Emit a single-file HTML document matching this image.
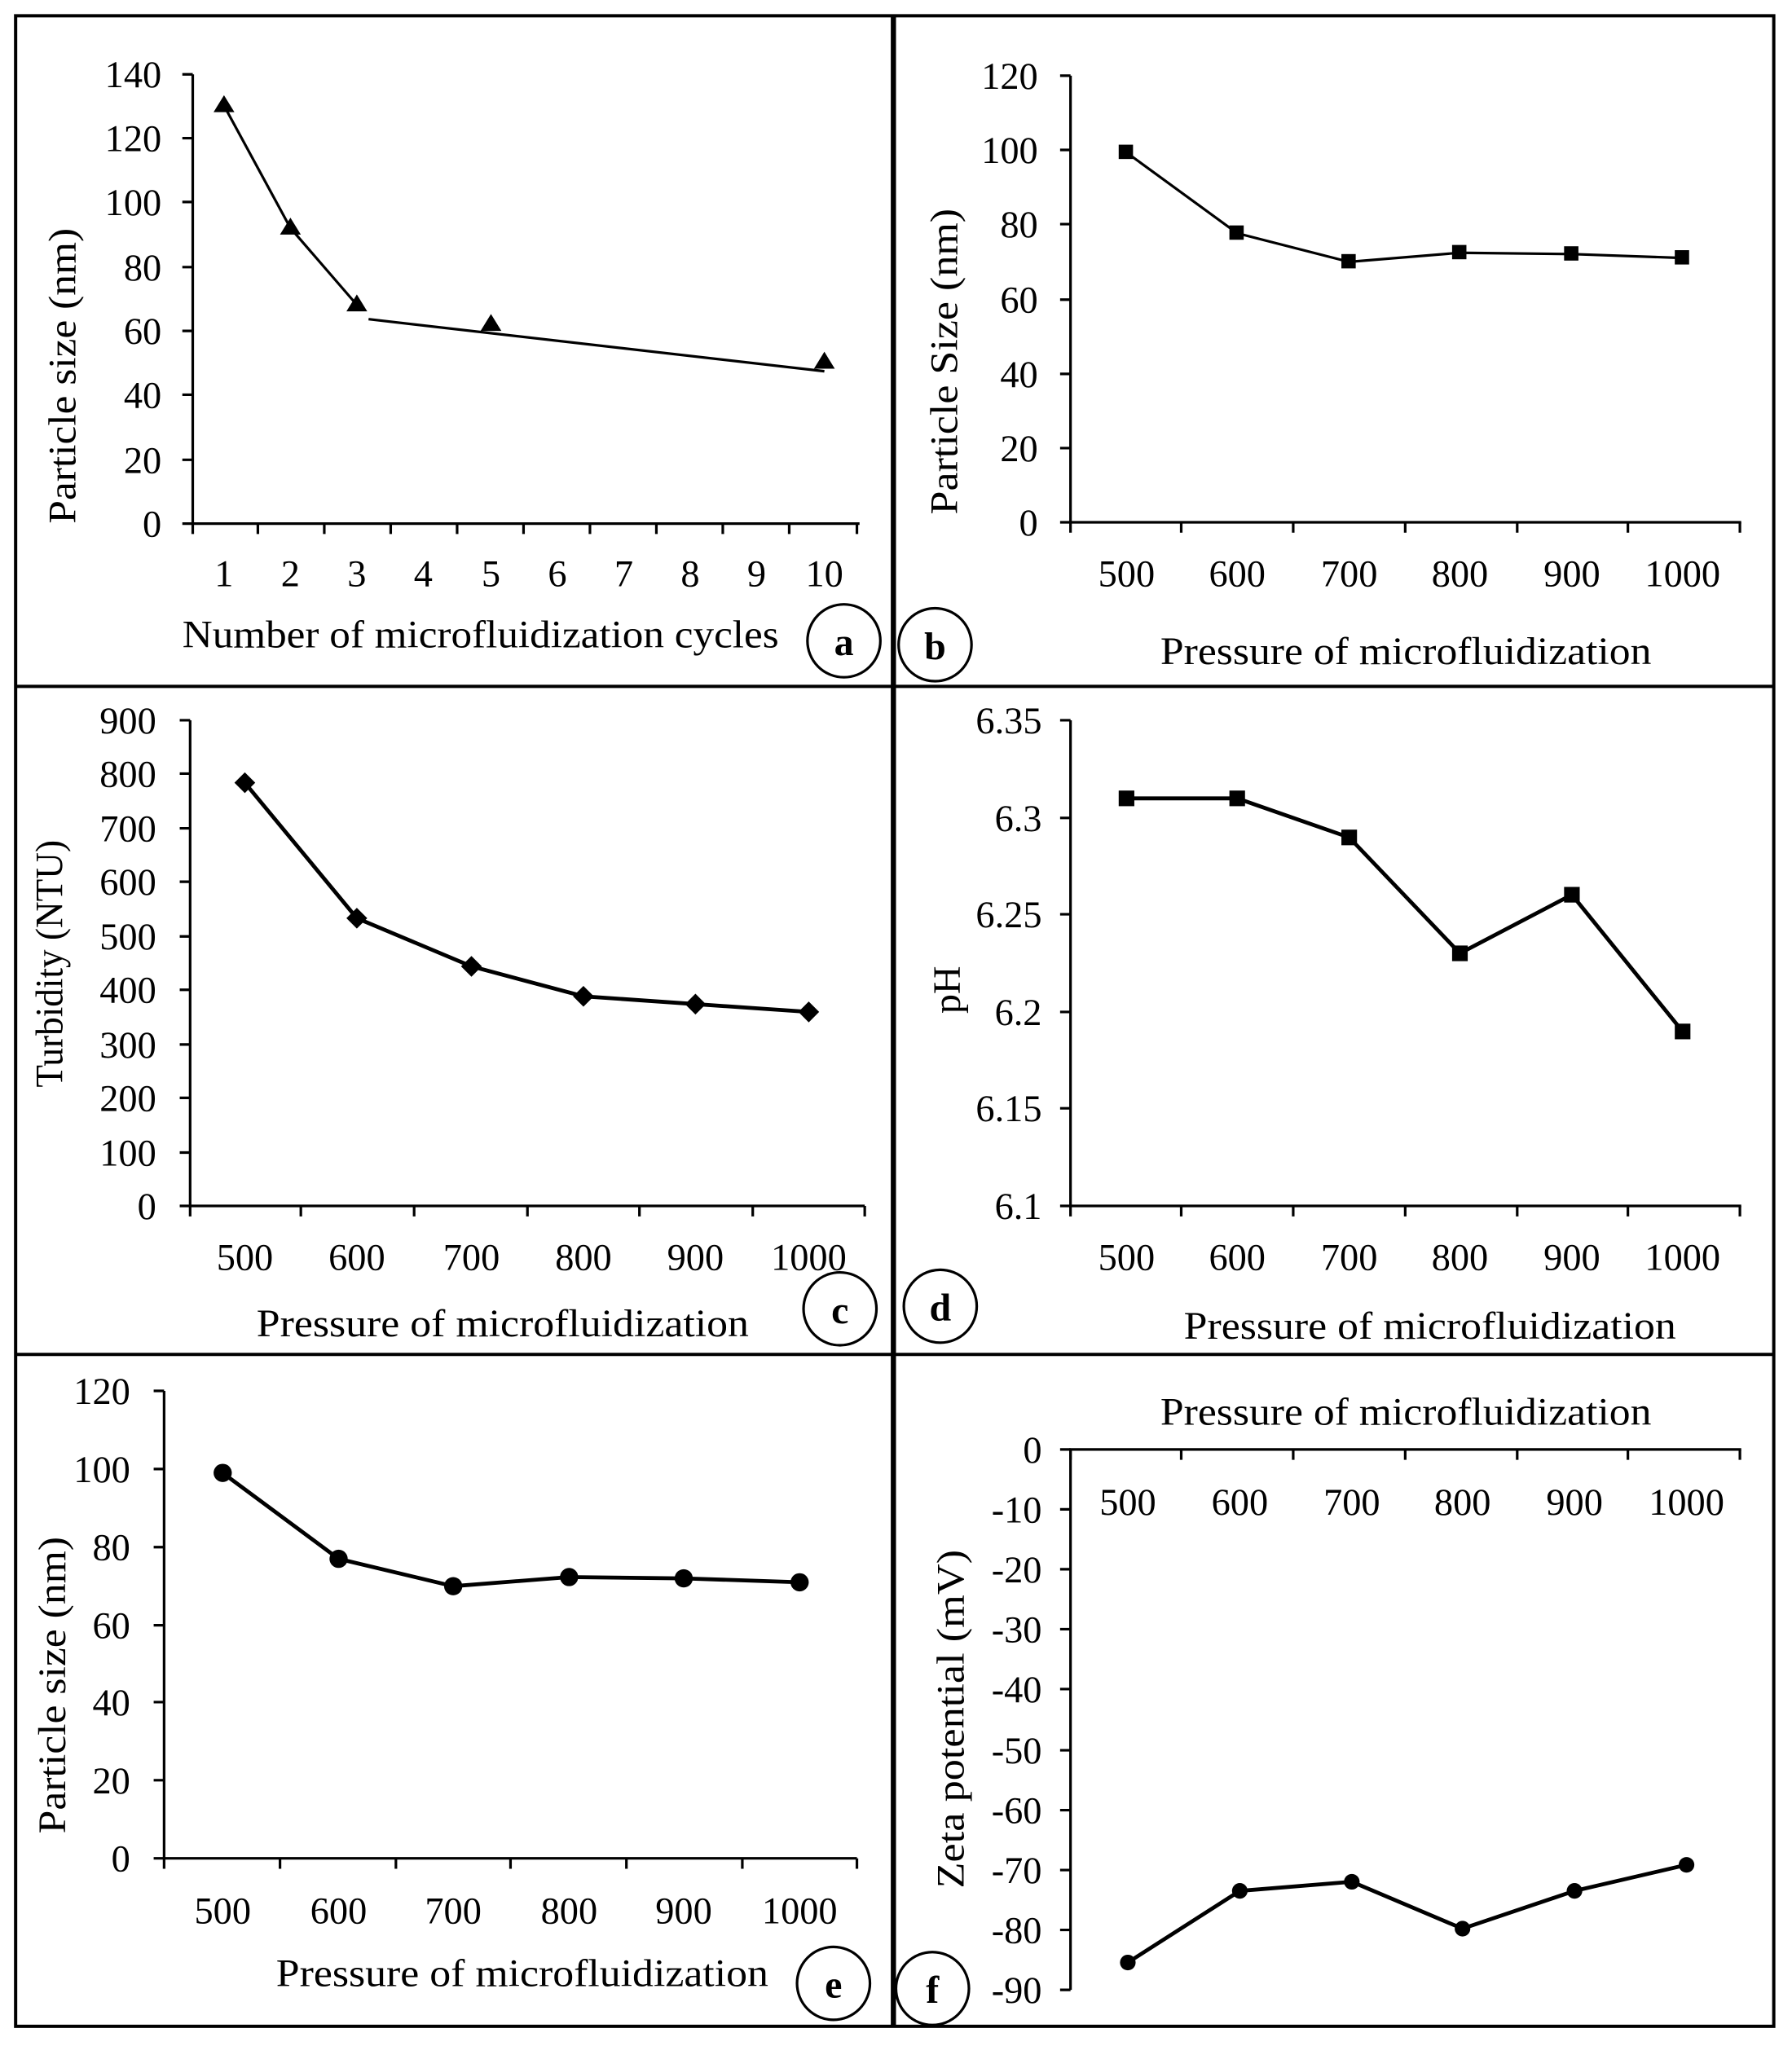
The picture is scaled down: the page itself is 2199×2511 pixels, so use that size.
<!DOCTYPE html>
<html><head><meta charset="utf-8"><style>html,body{margin:0;padding:0;background:#fff}svg{display:block}</style></head>
<body>
<svg width="2199" height="2511" viewBox="0 0 1376 1571" xmlns="http://www.w3.org/2000/svg" font-family="Liberation Serif, serif" font-size="29" fill="#000">
<rect x="0" y="0" width="1376" height="1571" fill="#fff"/>
<g stroke="#000" stroke-width="2.5" fill="none">
<rect x="12" y="12" width="1350" height="1544"/>
<line x1="686" y1="12" x2="686" y2="1556" stroke-width="4"/>
<line x1="12" y1="527" x2="1362" y2="527"/>
<line x1="12" y1="1040" x2="1362" y2="1040"/>
</g>

<!-- Panel a -->
<g stroke="#000" stroke-width="2" fill="none">
<path d="M148 57V402H660"/>
<path d="M140 57H148M140 106H148M140 155H148M140 205H148M140 254H148M140 303H148M140 353H148M140 402H148"/>
<path d="M148 402v8M198 402v8M249 402v8M300 402v8M351 402v8M402 402v8M453 402v8M504 402v8M555 402v8M606 402v8M658 402v8"/>
<polyline points="172,81 223,175 274,234"/>
<line x1="283" y1="245" x2="633" y2="285"/>
<circle cx="648" cy="492" r="28"/>
</g>
<g><path d="M172 73l8 13h-16zM223 167l8 13h-16zM274 226l8 13h-16zM377 241l8 13h-16zM633 270l8 13h-16z"/></g>
<g text-anchor="end"><text x="124" y="67">140</text><text x="124" y="116">120</text><text x="124" y="165">100</text><text x="124" y="215">80</text><text x="124" y="264">60</text><text x="124" y="313">40</text><text x="124" y="363">20</text><text x="124" y="412">0</text></g>
<g text-anchor="middle"><text x="172" y="450">1</text><text x="223" y="450">2</text><text x="274" y="450">3</text><text x="325" y="450">4</text><text x="377" y="450">5</text><text x="428" y="450">6</text><text x="479" y="450">7</text><text x="530" y="450">8</text><text x="581" y="450">9</text><text x="633" y="450">10</text>
<text x="648" y="503" font-weight="bold" font-size="30">a</text></g>
<text x="140" y="497" font-size="30" textLength="458" lengthAdjust="spacingAndGlyphs">Number of microfluidization cycles</text>
<text transform="translate(58 402) rotate(-90)" font-size="30" textLength="227" lengthAdjust="spacingAndGlyphs">Particle size (nm)</text>

<!-- Panel b -->
<g stroke="#000" stroke-width="2" fill="none">
<path d="M822 58V401H1337"/>
<path d="M814 58H822M814 115H822M814 172H822M814 230H822M814 287H822M814 344H822M814 401H822"/>
<path d="M822 401v8M907 401v8M993 401v8M1079 401v8M1165 401v8M1250 401v8M1336 401v8"/>
<polyline points="865,117 950,179 1036,201 1121,194 1207,195 1292,198"/>
<circle cx="718" cy="495" r="28"/>
</g>
<g><rect x="859" y="111" width="11" height="11"/><rect x="944" y="173" width="11" height="11"/><rect x="1030" y="195" width="11" height="11"/><rect x="1115" y="188" width="11" height="11"/><rect x="1201" y="189" width="11" height="11"/><rect x="1286" y="192" width="11" height="11"/></g>
<g text-anchor="end"><text x="797" y="68">120</text><text x="797" y="125">100</text><text x="797" y="182">80</text><text x="797" y="240">60</text><text x="797" y="297">40</text><text x="797" y="354">20</text><text x="797" y="411">0</text></g>
<g text-anchor="middle"><text x="865" y="450">500</text><text x="950" y="450">600</text><text x="1036" y="450">700</text><text x="1121" y="450">800</text><text x="1207" y="450">900</text><text x="1292" y="450">1000</text>
<text x="718" y="506" font-weight="bold" font-size="30">b</text></g>
<text x="891" y="510" font-size="30" textLength="377" lengthAdjust="spacingAndGlyphs">Pressure of microfluidization</text>
<text transform="translate(735 395) rotate(-90)" font-size="30" textLength="235" lengthAdjust="spacingAndGlyphs">Particle Size (nm)</text>

<!-- Panel c -->
<g stroke="#000" stroke-width="2" fill="none">
<path d="M146 553V926H664"/>
<path d="M138 553H146M138 594H146M138 636H146M138 677H146M138 719H146M138 760H146M138 802H146M138 843H146M138 885H146M138 926H146"/>
<path d="M146 926v8M231 926v8M318 926v8M405 926v8M491 926v8M578 926v8M664 926v8"/>
<polyline stroke-width="3" points="188,601 274,705 362,742 448,765 534,771 621,777"/>
<circle cx="645" cy="1005" r="28"/>
</g>
<g><path d="M188 593l8 8-8 8-8-8zM274 697l8 8-8 8-8-8zM362 734l8 8-8 8-8-8zM448 757l8 8-8 8-8-8zM534 763l8 8-8 8-8-8zM621 769l8 8-8 8-8-8z"/></g>
<g text-anchor="end"><text x="120" y="563">900</text><text x="120" y="604">800</text><text x="120" y="646">700</text><text x="120" y="687">600</text><text x="120" y="729">500</text><text x="120" y="770">400</text><text x="120" y="812">300</text><text x="120" y="853">200</text><text x="120" y="895">100</text><text x="120" y="936">0</text></g>
<g text-anchor="middle"><text x="188" y="975">500</text><text x="274" y="975">600</text><text x="362" y="975">700</text><text x="448" y="975">800</text><text x="534" y="975">900</text><text x="621" y="975">1000</text>
<text x="645" y="1016" font-weight="bold" font-size="30">c</text></g>
<text x="197" y="1026" font-size="30" textLength="378" lengthAdjust="spacingAndGlyphs">Pressure of microfluidization</text>
<text transform="translate(48 835) rotate(-90)" font-size="30" textLength="190" lengthAdjust="spacingAndGlyphs">Turbidity (NTU)</text>

<!-- Panel d -->
<g stroke="#000" stroke-width="2" fill="none">
<path d="M822 553V926H1337"/>
<path d="M814 553H822M814 628H822M814 702H822M814 777H822M814 851H822M814 926H822"/>
<path d="M822 926v8M907 926v8M993 926v8M1079 926v8M1165 926v8M1250 926v8M1336 926v8"/>
<polyline stroke-width="3" points="865,613 950,613 1036,643 1121,732 1207,687 1292,792"/>
<circle cx="722" cy="1003" r="28"/>
</g>
<g><rect x="859" y="607" width="12" height="12"/><rect x="944" y="607" width="12" height="12"/><rect x="1030" y="637" width="12" height="12"/><rect x="1115" y="726" width="12" height="12"/><rect x="1201" y="681" width="12" height="12"/><rect x="1286" y="786" width="12" height="12"/></g>
<g text-anchor="end"><text x="800" y="563">6.35</text><text x="800" y="638">6.3</text><text x="800" y="712">6.25</text><text x="800" y="787">6.2</text><text x="800" y="861">6.15</text><text x="800" y="936">6.1</text></g>
<g text-anchor="middle"><text x="865" y="975">500</text><text x="950" y="975">600</text><text x="1036" y="975">700</text><text x="1121" y="975">800</text><text x="1207" y="975">900</text><text x="1292" y="975">1000</text>
<text x="722" y="1014" font-weight="bold" font-size="30">d</text>
<text transform="translate(737 760) rotate(-90)" font-size="30">pH</text></g>
<text x="909" y="1028" font-size="30" textLength="378" lengthAdjust="spacingAndGlyphs">Pressure of microfluidization</text>

<!-- Panel e -->
<g stroke="#000" stroke-width="2" fill="none">
<path d="M126 1068V1427H658"/>
<path d="M118 1068H126M118 1128H126M118 1188H126M118 1248H126M118 1307H126M118 1367H126M118 1427H126"/>
<path d="M126 1427v8M215 1427v8M304 1427v8M392 1427v8M481 1427v8M570 1427v8M658 1427v8"/>
<polyline stroke-width="3" points="171,1131 260,1197 348,1218 437,1211 525,1212 614,1215"/>
<circle cx="640" cy="1523" r="28"/>
</g>
<g><circle cx="171" cy="1131" r="7"/><circle cx="260" cy="1197" r="7"/><circle cx="348" cy="1218" r="7"/><circle cx="437" cy="1211" r="7"/><circle cx="525" cy="1212" r="7"/><circle cx="614" cy="1215" r="7"/></g>
<g text-anchor="end"><text x="100" y="1078">120</text><text x="100" y="1138">100</text><text x="100" y="1198">80</text><text x="100" y="1258">60</text><text x="100" y="1317">40</text><text x="100" y="1377">20</text><text x="100" y="1437">0</text></g>
<g text-anchor="middle"><text x="171" y="1477">500</text><text x="260" y="1477">600</text><text x="348" y="1477">700</text><text x="437" y="1477">800</text><text x="525" y="1477">900</text><text x="614" y="1477">1000</text>
<text x="640" y="1534" font-weight="bold" font-size="30">e</text></g>
<text x="212" y="1525" font-size="30" textLength="378" lengthAdjust="spacingAndGlyphs">Pressure of microfluidization</text>
<text transform="translate(50 1408) rotate(-90)" font-size="30" textLength="228" lengthAdjust="spacingAndGlyphs">Particle size (nm)</text>

<!-- Panel f -->
<g stroke="#000" stroke-width="2" fill="none">
<path d="M822 1528V1113H1337"/>
<path d="M814 1113H822M814 1159H822M814 1205H822M814 1251H822M814 1297H822M814 1344H822M814 1390H822M814 1436H822M814 1482H822M814 1528H822"/>
<path d="M822 1113v8M907 1113v8M993 1113v8M1079 1113v8M1165 1113v8M1250 1113v8M1336 1113v8"/>
<polyline stroke-width="3" points="866,1507 952,1452 1038,1445 1123,1481 1209,1452 1295,1432"/>
<circle cx="716" cy="1527" r="28"/>
</g>
<g><circle cx="866" cy="1507" r="6"/><circle cx="952" cy="1452" r="6"/><circle cx="1038" cy="1445" r="6"/><circle cx="1123" cy="1481" r="6"/><circle cx="1209" cy="1452" r="6"/><circle cx="1295" cy="1432" r="6"/></g>
<g text-anchor="end"><text x="800" y="1123">0</text><text x="800" y="1169">-10</text><text x="800" y="1215">-20</text><text x="800" y="1261">-30</text><text x="800" y="1307">-40</text><text x="800" y="1354">-50</text><text x="800" y="1400">-60</text><text x="800" y="1446">-70</text><text x="800" y="1492">-80</text><text x="800" y="1538">-90</text></g>
<g text-anchor="middle"><text x="866" y="1163">500</text><text x="952" y="1163">600</text><text x="1038" y="1163">700</text><text x="1123" y="1163">800</text><text x="1209" y="1163">900</text><text x="1295" y="1163">1000</text>
<text x="716" y="1538" font-weight="bold" font-size="30">f</text></g>
<text x="891" y="1094" font-size="30" textLength="377" lengthAdjust="spacingAndGlyphs">Pressure of microfluidization</text>
<text transform="translate(740 1450) rotate(-90)" font-size="30" textLength="260" lengthAdjust="spacingAndGlyphs">Zeta potential (mV)</text>
</svg>
</body></html>
